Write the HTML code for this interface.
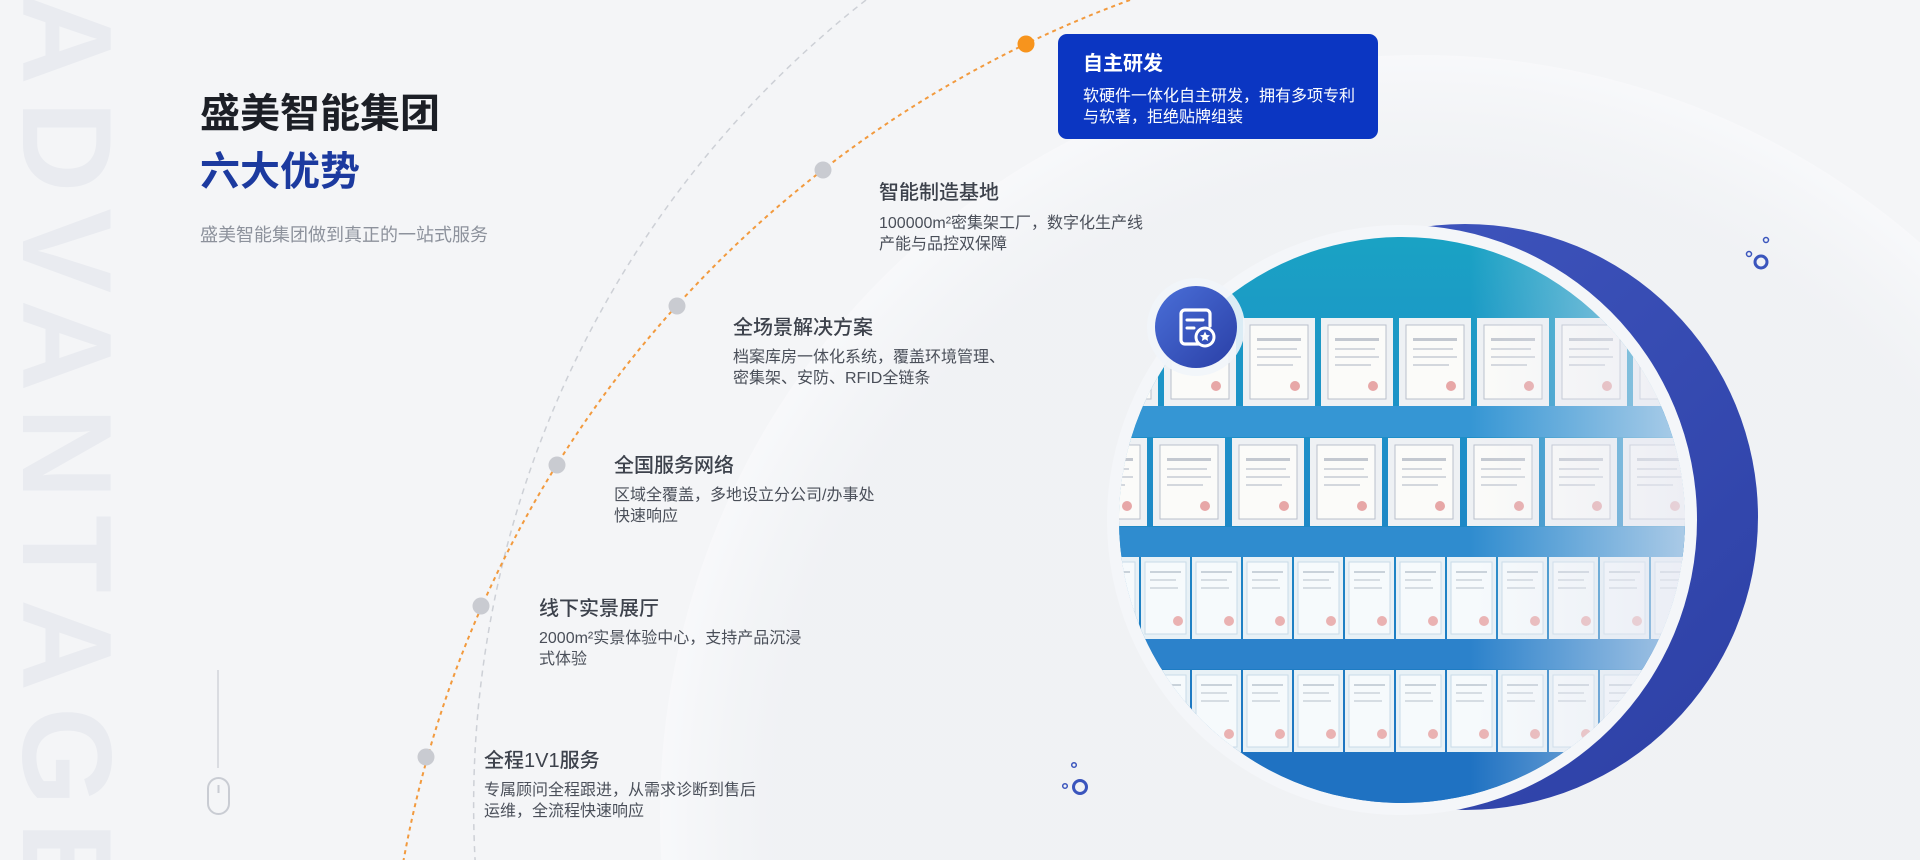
<!DOCTYPE html>
<html><head><meta charset="utf-8">
<style>
html,body{margin:0;padding:0;width:1920px;height:860px;overflow:hidden;}
body{position:relative;background:#f4f5f7;font-family:"Liberation Sans","Noto Sans CJK SC",sans-serif;}
#wrap{position:absolute;left:0;top:0;width:1920px;height:860px;overflow:hidden;}
.abs{position:absolute;white-space:nowrap;}
.adv{position:absolute;left:0;top:0;width:1000px;height:127px;font-size:127px;line-height:127px;font-weight:bold;color:#e9ebf0;transform-origin:0 0;transform:translate(130px,-7px) rotate(90deg);letter-spacing:16px;white-space:nowrap;}
.h1{font-size:40px;line-height:40px;font-weight:bold;color:#1c1f26;}
.h2{font-size:40px;line-height:40px;font-weight:bold;color:#1c3a9f;}
.sub{font-size:18px;line-height:18px;color:#8d929c;}
.t{font-size:20px;line-height:22px;font-weight:500;color:#3d424c;}
.d{font-size:16px;line-height:21px;color:#4a4f59;}
</style></head><body><div id="wrap">
<svg class="abs" style="left:0;top:0" width="1920" height="860" viewBox="0 0 1920 860">
<defs>
<radialGradient id="bg" cx="0.5" cy="0.5" r="0.5">
<stop offset="0.85" stop-color="#eef0f3" stop-opacity="0.6"/>
<stop offset="1" stop-color="#f8f9fb" stop-opacity="0.9"/>
</radialGradient>
<linearGradient id="cres" x1="0" y1="0" x2="1" y2="1">
<stop offset="0" stop-color="#4259c2"/><stop offset="1" stop-color="#2c3fa4"/>
</linearGradient>
<linearGradient id="img" x1="0" y1="0" x2="0" y2="1">
<stop offset="0" stop-color="#1aa3c4"/><stop offset="0.35" stop-color="#1d8fc8"/><stop offset="1" stop-color="#1f6fc0"/>
</linearGradient>
<linearGradient id="fade" x1="0" y1="0" x2="1" y2="0">
<stop offset="0.6" stop-color="#e6e8f2" stop-opacity="0"/><stop offset="1" stop-color="#e6e8f2" stop-opacity="0.75"/>
</linearGradient>
<linearGradient id="badge" x1="0" y1="0" x2="1" y2="1">
<stop offset="0" stop-color="#4a6fd8"/><stop offset="1" stop-color="#2a3fa6"/>
</linearGradient>
<clipPath id="cc"><circle cx="1402" cy="520" r="283"/></clipPath>
<g id="fa"><rect width="72" height="88" fill="#eef1f4"/><rect x="7" y="7" width="58" height="74" fill="#fbfbf9" stroke="#b9c0cc"/><rect x="14" y="20" width="44" height="3" fill="#c3c8d0"/><rect x="14" y="30" width="40" height="2" fill="#d3d7dd"/><rect x="14" y="38" width="44" height="2" fill="#d3d7dd"/><rect x="14" y="46" width="36" height="2" fill="#d3d7dd"/><circle cx="52" cy="68" r="5" fill="#e7a7a7"/></g>
<g id="fb"><rect width="49" height="82" fill="#e8f1f6"/><rect x="4" y="5" width="41" height="72" fill="#f6fafc" stroke="#c8dbe8"/><rect x="9" y="14" width="31" height="2" fill="#c9d2da"/><rect x="9" y="22" width="26" height="2" fill="#d6dde3"/><rect x="9" y="30" width="28" height="2" fill="#d6dde3"/><circle cx="37" cy="64" r="5" fill="#eab2b2"/></g>
</defs>
<circle cx="1420" cy="815" r="760" fill="url(#bg)"/>
<path d="M866 0 A1023 1023 0 0 0 478 900" fill="none" stroke="#cdd0d6" stroke-width="1.5" stroke-dasharray="6 5"/>
<path d="M1130 0 A1133.3 1133.3 0 0 0 397 900" fill="none" stroke="#f29a3e" stroke-width="2" stroke-dasharray="4 4"/>
<circle cx="1026" cy="44" r="8.5" fill="#f7941d"/>
<circle cx="823" cy="170" r="8.5" fill="#c9cbd1"/>
<circle cx="677" cy="306" r="8.5" fill="#c9cbd1"/>
<circle cx="557" cy="465" r="8.5" fill="#c9cbd1"/>
<circle cx="481" cy="606" r="8.5" fill="#c9cbd1"/>
<circle cx="426" cy="757" r="8.5" fill="#c9cbd1"/>
<line x1="218" y1="670" x2="218" y2="768" stroke="#c9ccd3" stroke-width="1.2"/>
<rect x="208" y="778" width="21" height="36" rx="10.5" fill="none" stroke="#c9ccd3" stroke-width="2"/>
<line x1="218.5" y1="785" x2="218.5" y2="793" stroke="#c9ccd3" stroke-width="2"/>
<circle cx="1465" cy="517" r="293" fill="url(#cres)"/>
<circle cx="1402" cy="520" r="295" fill="#f4f6f9"/>
<g clip-path="url(#cc)">
<rect x="1110" y="230" width="600" height="600" fill="url(#img)"/>
<rect x="1110" y="406" width="600" height="31" fill="#3596d4"/>
<rect x="1110" y="527" width="600" height="30" fill="#2f8ccf"/>
<rect x="1110" y="639" width="600" height="30" fill="#2c82cb"/>
<use href="#fa" x="1086" y="318"/><use href="#fa" x="1164" y="318"/><use href="#fa" x="1243" y="318"/><use href="#fa" x="1321" y="318"/><use href="#fa" x="1399" y="318"/><use href="#fa" x="1477" y="318"/><use href="#fa" x="1555" y="318"/><use href="#fa" x="1633" y="318"/>
<use href="#fa" x="1075" y="438"/><use href="#fa" x="1153" y="438"/><use href="#fa" x="1232" y="438"/><use href="#fa" x="1310" y="438"/><use href="#fa" x="1388" y="438"/><use href="#fa" x="1467" y="438"/><use href="#fa" x="1545" y="438"/><use href="#fa" x="1623" y="438"/>
<use href="#fb" x="1090" y="557"/><use href="#fb" x="1141" y="557"/><use href="#fb" x="1192" y="557"/><use href="#fb" x="1243" y="557"/><use href="#fb" x="1294" y="557"/><use href="#fb" x="1345" y="557"/><use href="#fb" x="1396" y="557"/><use href="#fb" x="1447" y="557"/><use href="#fb" x="1498" y="557"/><use href="#fb" x="1549" y="557"/><use href="#fb" x="1600" y="557"/><use href="#fb" x="1651" y="557"/>
<use href="#fb" x="1090" y="670"/><use href="#fb" x="1141" y="670"/><use href="#fb" x="1192" y="670"/><use href="#fb" x="1243" y="670"/><use href="#fb" x="1294" y="670"/><use href="#fb" x="1345" y="670"/><use href="#fb" x="1396" y="670"/><use href="#fb" x="1447" y="670"/><use href="#fb" x="1498" y="670"/><use href="#fb" x="1549" y="670"/><use href="#fb" x="1600" y="670"/><use href="#fb" x="1651" y="670"/>
<rect x="1110" y="753" width="600" height="80" fill="#1f72c2"/>
<rect x="1110" y="230" width="600" height="600" fill="url(#fade)"/>
</g>
<circle cx="1196" cy="327" r="49" fill="#f1f5fa" opacity="0.9"/>
<circle cx="1196" cy="327" r="41" fill="url(#badge)"/>
<path d="M1200 344 H1185 a4 4 0 0 1 -4 -4 V314 a4 4 0 0 1 4 -4 H1206 a4 4 0 0 1 4 4 V326" fill="none" stroke="#fff" stroke-width="3.2" stroke-linecap="round"/>
<line x1="1187" y1="320" x2="1203" y2="320" stroke="#fff" stroke-width="3" stroke-linecap="round"/>
<line x1="1187" y1="328" x2="1194" y2="328" stroke="#fff" stroke-width="3" stroke-linecap="round"/>
<circle cx="1205" cy="337" r="9" fill="#3552bb" stroke="#fff" stroke-width="3"/>
<polygon points="1205,331.5 1206.6,335 1210,335.3 1207.4,337.6 1208.2,341 1205,339.2 1201.8,341 1202.6,337.6 1200,335.3 1203.4,335" fill="#fff"/>
<circle cx="1761" cy="262" r="6" fill="none" stroke="#3a55bd" stroke-width="3"/>
<circle cx="1749" cy="254" r="2.5" fill="none" stroke="#3a55bd" stroke-width="1.5"/>
<circle cx="1766" cy="240" r="2.5" fill="none" stroke="#3a55bd" stroke-width="1.5"/>
<circle cx="1080" cy="787" r="6.5" fill="none" stroke="#3a55bd" stroke-width="3"/>
<circle cx="1074" cy="765" r="2.3" fill="none" stroke="#3a55bd" stroke-width="1.5"/>
<circle cx="1065" cy="786" r="2.3" fill="none" stroke="#3a55bd" stroke-width="1.5"/>
<rect x="1058" y="34" width="320" height="105" rx="9" fill="#0b36c2"/>
</svg>
<div class="adv">ADVANTAGE</div>
<div class="abs h1" style="left:200px;top:94px">盛美智能集团</div>
<div class="abs h2" style="left:200px;top:152px">六大优势</div>
<div class="abs sub" style="left:200px;top:226px">盛美智能集团做到真正的一站式服务</div>

<div class="abs t" style="left:1083px;top:53px;color:#fff;font-weight:bold">自主研发</div>
<div class="abs d" style="left:1083px;top:86px;color:#fff">软硬件一体化自主研发，拥有多项专利<br>与软著，拒绝贴牌组装</div>

<div class="abs t" style="left:879px;top:182px">智能制造基地</div>
<div class="abs d" style="left:879px;top:213px">100000m²密集架工厂，数字化生产线<br>产能与品控双保障</div>

<div class="abs t" style="left:733px;top:317px">全场景解决方案</div>
<div class="abs d" style="left:733px;top:347px">档案库房一体化系统，覆盖环境管理、<br>密集架、安防、RFID全链条</div>

<div class="abs t" style="left:614px;top:455px">全国服务网络</div>
<div class="abs d" style="left:614px;top:485px">区域全覆盖，多地设立分公司/办事处<br>快速响应</div>

<div class="abs t" style="left:539px;top:598px">线下实景展厅</div>
<div class="abs d" style="left:539px;top:628px">2000m²实景体验中心，支持产品沉浸<br>式体验</div>

<div class="abs t" style="left:484px;top:750px">全程1V1服务</div>
<div class="abs d" style="left:484px;top:780px">专属顾问全程跟进，从需求诊断到售后<br>运维，全流程快速响应</div>
</div></body></html>
